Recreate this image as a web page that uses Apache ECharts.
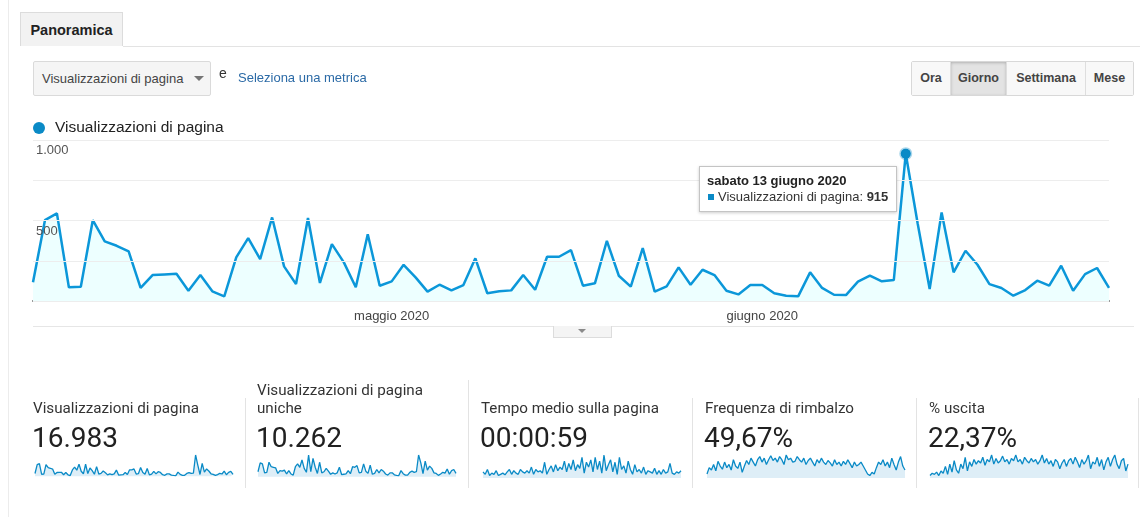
<!DOCTYPE html>
<html><head><meta charset="utf-8">
<script src="https://cdn.jsdelivr.net/npm/echarts@6/dist/echarts.min.js"></script>
<style>
html,body{margin:0;padding:0;background:#fff;}
#page{position:relative;width:1140px;height:517px;overflow:hidden;font-family:Arial,"Liberation Sans",sans-serif;}
#chart{position:absolute;left:0;top:0;width:1140px;height:517px;}
.abs{position:absolute;}
#leftline{left:8px;top:0;width:1px;height:517px;background:#ececec;}
#tab{left:20px;top:12px;width:103px;height:34px;background:#f2f2f2;border:1px solid #dcdcdc;border-bottom:none;font-weight:bold;font-size:14.5px;color:#222;line-height:34px;text-align:center;box-sizing:border-box;}
#tabline{left:123px;top:46px;width:1017px;height:1px;background:#e3e3e3;}
#dropdown{left:33px;top:61px;width:178px;height:35px;box-sizing:border-box;border:1px solid #dadada;border-radius:2px;background:#f5f5f5;font-size:13px;color:#444;line-height:33px;padding-left:8px;}
#caret{left:194px;top:76px;width:0;height:0;border-left:5px solid transparent;border-right:5px solid transparent;border-top:5px solid #757575;}
#e{left:219px;top:65px;font-size:14px;color:#333;}
#sel{left:238px;top:70px;font-size:13px;color:#2b6aa6;}
#btns{left:911px;top:61px;height:35px;display:flex;border:1px solid #d8d8d8;border-radius:2px;box-sizing:border-box;}
#btns div{height:33px;line-height:33px;font-size:12.5px;font-weight:bold;color:#444;text-align:center;background:#f8f8f8;border-left:1px solid #dedede;box-sizing:border-box;}
#btns div:first-child{border-left:none;}
#btns div.on{background:#e3e3e3;box-shadow:inset 0 1px 3px rgba(0,0,0,0.22);}
#xline{left:33px;top:326px;width:1101px;height:1px;background:#e6e6e6;}
#toggle{left:553px;top:326px;width:59px;height:12px;box-sizing:border-box;background:#f4f4f4;border:1px solid #dcdcdc;border-top:none;}
#toggle span{position:absolute;left:24px;top:3px;width:0;height:0;border-left:4px solid transparent;border-right:4px solid transparent;border-top:4px solid #8a8a8a;}
.kt{font-family:Roboto,Arial,sans-serif;font-size:15.2px;color:#333;line-height:18px;width:210px;}
.kv{font-family:Roboto,Arial,sans-serif;font-size:28px;color:#212121;line-height:32px;}
.kd{width:1px;background:#e3e3e3;}
</style></head>
<body>
<div id="page">
<div id="chart"></div>
<div class="abs" id="leftline"></div>
<div class="abs" id="tab">Panoramica</div>
<div class="abs" id="tabline"></div>
<div class="abs" id="dropdown">Visualizzazioni di pagina</div>
<div class="abs" id="caret"></div>
<div class="abs" id="e">e</div>
<div class="abs" id="sel">Seleziona una metrica</div>
<div class="abs" id="btns"></div>
<div class="abs" id="xline"></div>
<div class="abs" id="toggle"><span></span></div>
<div id="kpis"></div>
</div>
<script>
// ---- data ----
const startDate = [2020, 3, 1]; // 1 aprile 2020 (month 0-based)
const pageViews = [116,502,544,85,89,502,370,343,308,81,
  161,165,169,64,161,60,29,271,391,260,
  519,215,105,515,112,353,240,85,415,95,
  122,225,147,58,101,66,99,265,48,60,
  66,161,70,275,275,316,95,110,374,157,
  89,329,58,91,209,101,194,161,64,41,
  99,99,48,33,29,178,81,39,37,120,
  157,122,130,915,480,74,550,178,312,225,
  105,81,33,68,126,95,219,64,167,205,81];
const uniqueViews = [90,250,230,70,80,260,180,170,160,60,
  110,100,120,50,110,50,30,180,230,170,
  300,150,80,390,90,330,170,60,260,70,
  90,150,100,45,70,50,70,170,40,45,
  50,110,55,180,170,200,70,80,230,100,
  60,210,45,60,130,70,130,100,50,30,
  70,70,35,25,22,110,55,30,28,80,
  100,80,90,390,250,55,280,120,190,150,
  70,60,25,50,80,65,140,45,110,130,60];
const avgTime = [50,40,60,35,45,40,55,35,40,45,
  38,50,60,40,55,45,40,60,50,45,
  55,45,70,40,60,50,55,45,90,40,
  60,75,50,80,55,70,60,95,50,85,
  60,100,55,80,65,110,45,90,70,100,
  50,110,60,95,45,120,55,80,100,50,
  90,40,110,60,75,45,95,60,40,80,
  50,60,45,70,40,55,50,45,65,40,
  55,40,60,45,50,85,45,40,50,45,55];
const bounceRate = [40,48,45,52,44,56,50,46,55,48,
  52,45,58,50,47,55,42,50,57,52,
  60,55,50,58,62,55,60,52,58,63,
  57,60,55,62,58,52,64,58,60,55,
  56,62,58,55,60,52,57,60,55,50,
  58,54,60,55,52,57,54,50,58,52,
  55,50,56,52,58,53,48,55,50,52,
  55,50,45,40,38,42,40,48,55,52,
  58,50,55,48,60,52,45,55,62,50,45];
const exitRate = [12,14,13,15,12,16,14,20,13,22,
  15,25,17,14,22,18,28,16,24,20,
  26,22,25,23,28,21,26,24,30,22,
  27,23,25,29,24,26,22,27,25,30,
  24,26,22,28,25,23,27,24,26,22,
  25,30,23,27,22,25,20,26,24,18,
  23,26,20,25,27,22,28,24,19,26,
  22,25,30,18,24,22,28,20,26,17,
  24,28,20,26,30,22,18,25,27,16,22];
const yTickLabels = {500:'500', 1000:'1.000'};
const kpiTitles = ['Visualizzazioni di pagina','Visualizzazioni di pagina uniche','Tempo medio sulla pagina','Frequenza di rimbalzo','% uscita'];
const kpiValues = ['16.983','10.262','00:00:59','49,67%','22,37%'];
const periodButtons = ['Ora','Giorno','Settimana','Mese'];
const seriesName = 'Visualizzazioni di pagina';
const monthNames = ['gennaio','febbraio','marzo','aprile','maggio','giugno','luglio','agosto','settembre','ottobre','novembre','dicembre'];
const dayNames = ['domenica','lunedì','martedì','mercoledì','giovedì','venerdì','sabato'];

// categories (dates)
const dates = pageViews.map((_, i) => new Date(startDate[0], startDate[1], startDate[2] + i));
const categories = dates.map(d => d.getFullYear() + '-' + (d.getMonth()+1) + '-' + d.getDate());

// ---- chrome ----
const btnW = [38,56,79,48];
document.getElementById('btns').innerHTML = periodButtons.map((b,i) =>
  '<div class="' + (b==='Giorno'?'on':'') + '" style="width:' + btnW[i] + 'px">' + b + '</div>').join('');
const kpiX = [33,257,481,705,929];
const divX = [245,468,692,916,1138];
let kh = '';
kpiTitles.forEach((t,i) => {
  const twoLine = t.length > 26;
  const title = twoLine ? 'Visualizzazioni di pagina<br>uniche' : t;
  kh += '<div class="abs kt" style="left:' + kpiX[i] + 'px;top:' + (twoLine?381:399) + 'px">' + title + '</div>';
  kh += '<div class="abs kv" style="left:' + (kpiX[i]-1) + 'px;top:422px">' + kpiValues[i] + '</div>';
});
divX.forEach((x,i) => {
  const top = i===1 ? 380 : 398;
  kh += '<div class="abs kd" style="left:' + x + 'px;top:' + top + 'px;height:' + (488-top) + 'px"></div>';
});
document.getElementById('kpis').innerHTML = kh;

// ---- chart ----
const BLUE = '#0a8ac6';
const FILL = '#d8ebf6';
const chart = echarts.init(document.getElementById('chart'), null, {renderer:'canvas'});
const sparkData = [pageViews, uniqueViews, avgTime, bounceRate, exitRate];
const sparkLeft = [35,258,483,707,930];
const grids = [{left:33, right:31, top:140, bottom:216}];
const xAxes = [{
  type:'category', data:categories, boundaryGap:false, gridIndex:0,
  axisLine:{show:true, lineStyle:{color:'#7a7a7a', width:2}},
  axisTick:{show:false},
  axisLabel:{
    color:'#444', fontSize:13, fontFamily:'Arial', margin:9,
    interval:(idx) => idx > 0 && dates[idx].getDate() === 1,
    formatter:(v, idx) => { const d = dates[idx]; return monthNames[d.getMonth()] + ' ' + d.getFullYear(); }
  }
}];
const yAxes = [{
  type:'value', min:0, max:1000, interval:250, gridIndex:0, z:5,
  axisLine:{show:false}, axisTick:{show:false},
  splitLine:{lineStyle:{color:'#ededed', width:1}},
  axisLabel:{inside:true, margin:3, color:'#555', fontSize:13, fontFamily:'Arial', verticalAlign:'top', padding:[4,0,0,0],
    formatter:(v) => yTickLabels[v] || ''}
}];
const series = [{
  name:seriesName, type:'line', data:pageViews, xAxisIndex:0, yAxisIndex:0, z:3,
  symbol:'circle', symbolSize:9, showSymbol:false,
  lineStyle:{color:BLUE, width:2.5}, itemStyle:{color:BLUE},
  areaStyle:{color:FILL, opacity:1},
  emphasis:{scale:false},
  markPoint:{silent:true, symbol:'circle', symbolSize:10, label:{show:false},
    itemStyle:{color:BLUE, borderColor:'rgba(10,138,198,0.35)', borderWidth:3},
    data:[{type:'max'}]}
}];
sparkData.forEach((arr, k) => {
  const gi = k + 1;
  grids.push({left:sparkLeft[k], width:198, top:455, height:23});
  xAxes.push({type:'category', gridIndex:gi, data:categories, boundaryGap:false, show:false});
  yAxes.push({type:'value', gridIndex:gi, show:false, splitLine:{show:false},
    min:(e) => e.min - (e.max - e.min) * 0.12, max:(e) => e.max});
  series.push({type:'line', xAxisIndex:gi, yAxisIndex:gi, data:arr, symbol:'none', silent:true,
    lineStyle:{color:BLUE, width:1.3}, areaStyle:{color:'#deeef7', opacity:1}, tooltip:{show:false}});
});

chart.setOption({
  animation:false,
  backgroundColor:'transparent',
  legend:{data:[seriesName], left:33, top:120, padding:0, icon:'circle', itemWidth:12, itemHeight:12,
    selectedMode:false, textStyle:{color:'#222', fontSize:15.5, fontFamily:'Arial', padding:[0,0,0,5]}},
  tooltip:{
    trigger:'axis', axisPointer:{type:'none'}, alwaysShowContent:true, triggerOn:'none',
    transitionDuration:0, backgroundColor:'#fff', borderColor:'#c4c4c4', borderWidth:1, padding:[6,8,6,7],
    extraCssText:'box-shadow:0 1px 3px rgba(0,0,0,0.2);border-radius:0;',
    position:(point) => [point[0]-207, point[1]+12],
    formatter:(params) => {
      const p = Array.isArray(params) ? params[0] : params;
      const d = dates[p.dataIndex];
      return '<div style="font:bold 13px Arial;color:#222;line-height:16px">' + dayNames[d.getDay()] + ' ' + d.getDate() + ' ' + monthNames[d.getMonth()] + ' ' + d.getFullYear() + '</div>' +
        '<div style="font:13px Arial;color:#333;line-height:16px"><span style="display:inline-block;width:6px;height:6px;background:' + BLUE + ';margin:0 4px 1px 1px"></span>' +
        p.seriesName + ': <b>' + p.value + '</b></div>';
    }
  },
  grid:grids, xAxis:xAxes, yAxis:yAxes, series:series
});
const peakIdx = pageViews.indexOf(Math.max(...pageViews));
chart.dispatchAction({type:'showTip', seriesIndex:0, dataIndex:peakIdx});
</script>
</body></html>
